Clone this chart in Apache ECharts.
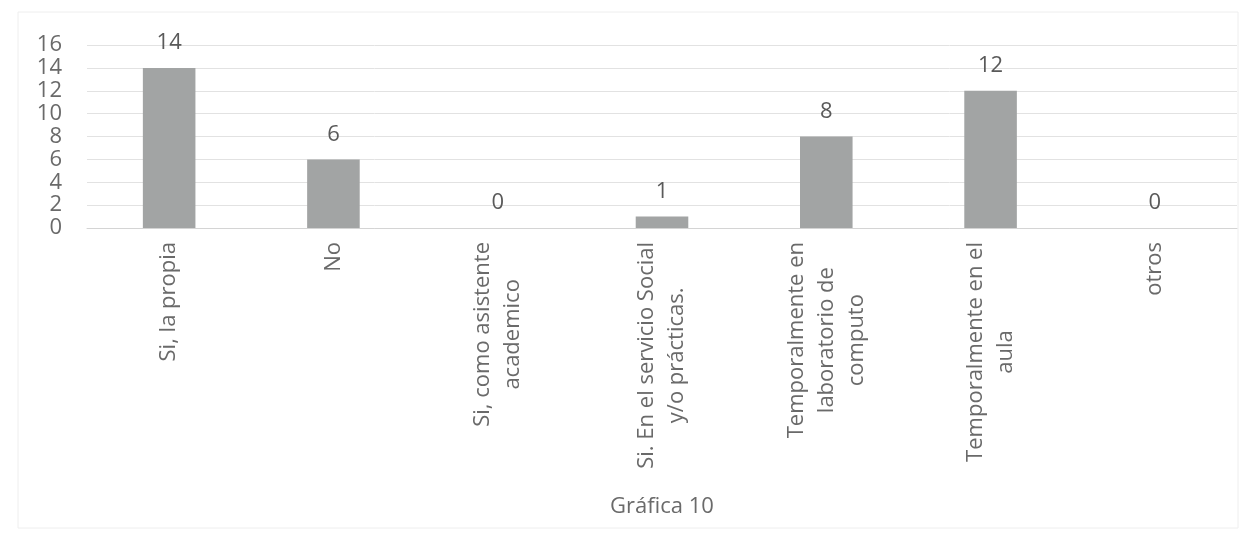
<!DOCTYPE html>
<html><head><meta charset="utf-8">
<script src="https://cdn.jsdelivr.net/npm/echarts@6/dist/echarts.min.js"></script>
<style>html,body{margin:0;padding:0;background:#fff}#c{width:1253px;height:534px}</style>
</head><body><div id="c"></div>
<script>
const categories = [
  "Si, la propia",
  "No",
  "Si, como asistente\nacademico",
  "Si. En el servicio Social\ny/o prácticas.",
  "Temporalmente en\nlaboratorio de\ncomputo",
  "Temporalmente en el\naula",
  "otros"
];
const values = [14, 6, 0, 1, 8, 12, 0];
const yTicks = { min: 0, max: 16, interval: 2 };
const chartTitle = "Gráfica 10";

const chart = echarts.init(document.getElementById('c'));
const FONT = 'Open Sans';
const TXT = '#6a6a6a';
chart.setOption({
  backgroundColor: '#ffffff',
  animation: false,
  graphic: [{
    type: 'rect', silent: true, z: -10,
    shape: { x: 18, y: 12, width: 1220, height: 516 },
    style: { fill: 'none', stroke: '#eeeeee', lineWidth: 1 }
  }],
  grid: { left: 87, right: 16, top: 45, bottom: 306 },
  xAxis: {
    type: 'category',
    data: categories,
    name: chartTitle,
    nameLocation: 'middle',
    nameGap: 268,
    nameTextStyle: { fontFamily: FONT, fontSize: 22, color: TXT },
    axisLine: { lineStyle: { color: '#d4d4d4', width: 1 } },
    axisTick: { show: false },
    axisLabel: {
      rotate: 90,
      interval: 0,
      margin: 14,
      fontFamily: FONT,
      fontSize: 22,
      color: TXT,
      formatter: function (v) {
        return v.split('\n').map(function (l) { return '{c|' + l + '}'; }).join('\n');
      },
      rich: { c: { align: 'center', fontFamily: FONT, fontSize: 22, color: TXT, lineHeight: 30 } }
    }
  },
  yAxis: {
    type: 'value',
    min: yTicks.min, max: yTicks.max, interval: yTicks.interval,
    axisLine: { show: false },
    axisTick: { show: false },
    axisLabel: { fontFamily: FONT, fontSize: 22, color: TXT, margin: 25 },
    splitLine: { lineStyle: { color: '#e2e2e2', width: 1 } }
  },
  series: [{
    type: 'bar',
    data: values,
    barWidth: '32%',
    itemStyle: { color: '#a2a4a4', borderWidth: 0 },
    label: { show: true, position: 'top', distance: 14, fontFamily: FONT, fontSize: 22, color: '#5a5a5a' }
  }]
});
</script></body></html>
